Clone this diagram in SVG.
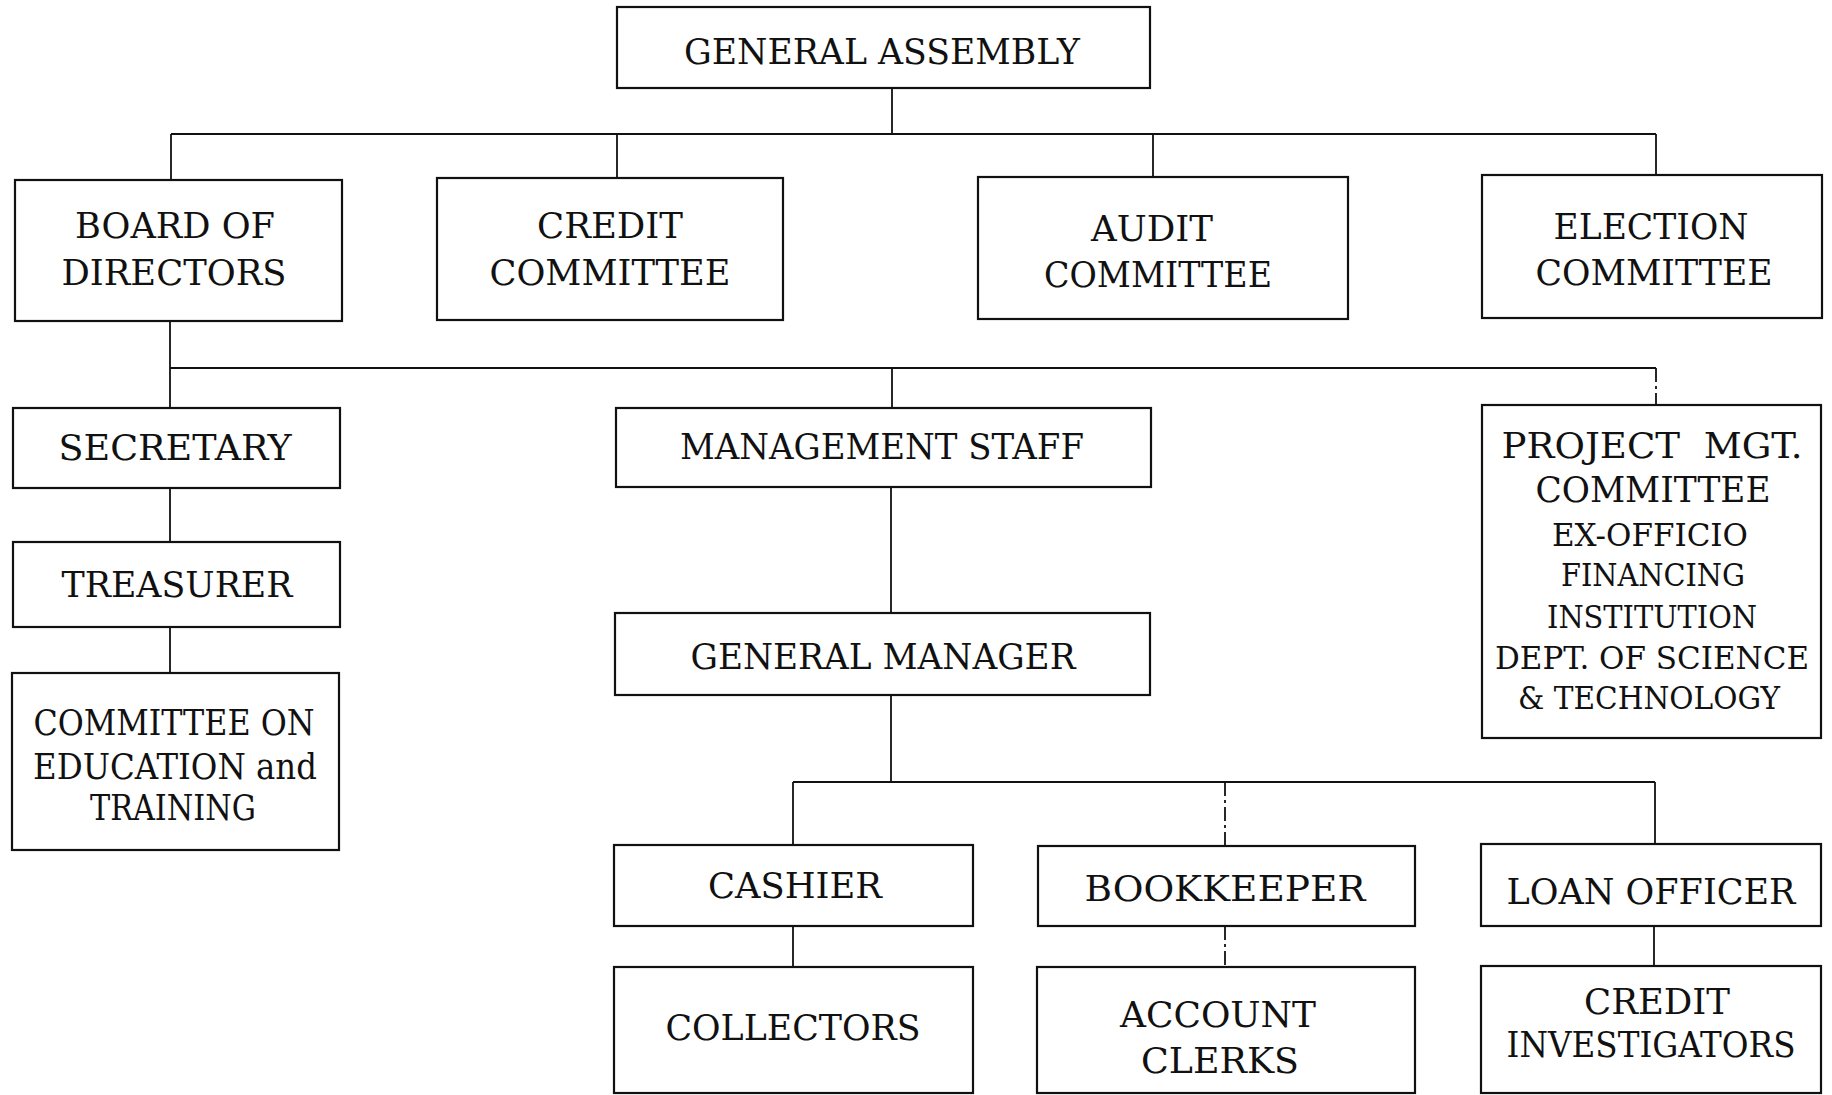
<svg xmlns="http://www.w3.org/2000/svg" width="1832" height="1095" viewBox="0 0 1832 1095">
  <style>
    .box { fill: #ffffff; stroke: #111111; stroke-width: 2.2; }
    .link { fill: none; stroke: #111111; stroke-width: 1.8; }
    .dash { stroke-dasharray: 14 4 3 4; }
    text { font-family: "DejaVu Serif", "Liberation Serif", serif; font-size: 35px; fill: #111111; text-anchor: middle; }
    .sm { font-size: 32px; }
    .pre { white-space: pre; }
  </style>
  <rect width="1832" height="1095" fill="#ffffff"/>

  <!-- connectors -->
  <g id="connectors">
    <path class="link" d="M892 88 V134 M171 134 H1656 M171 134 V180 M617 134 V178 M1153 134 V177 M1656 134 V175"/>
    <path class="link" d="M170 321 V368 M170 368 H1656 M170 368 V408 M892 368 V408"/>
    <path class="link dash" d="M1656 368 V405"/>
    <path class="link" d="M170 488 V542 M170 627 V673"/>
    <path class="link" d="M891 487 V613 M891 695 V782 M793 782 H1655 M793 782 V845 M1655 782 V844"/>
    <path class="link dash" d="M1225 782 V846"/>
    <path class="link" d="M793 926 V967 M1654 926 V966"/>
    <path class="link dash" d="M1225 926 V967"/>
  </g>

  <!-- top level -->
  <g id="general-assembly">
    <rect class="box" x="617" y="7" width="533" height="81"/>
    <text x="882" y="64" textLength="396" lengthAdjust="spacingAndGlyphs">GENERAL ASSEMBLY</text>
  </g>

  <!-- committees under the assembly -->
  <g id="board-of-directors">
    <rect class="box" x="15" y="180" width="327" height="141"/>
    <text x="175" y="238" textLength="200" lengthAdjust="spacingAndGlyphs">BOARD OF</text>
    <text x="174" y="285" textLength="225" lengthAdjust="spacingAndGlyphs">DIRECTORS</text>
  </g>
  <g id="credit-committee">
    <rect class="box" x="437" y="178" width="346" height="142"/>
    <text x="610" y="238" textLength="146" lengthAdjust="spacingAndGlyphs">CREDIT</text>
    <text x="610" y="285" textLength="241" lengthAdjust="spacingAndGlyphs">COMMITTEE</text>
  </g>
  <g id="audit-committee">
    <rect class="box" x="978" y="177" width="370" height="142"/>
    <text x="1152" y="241" textLength="122" lengthAdjust="spacingAndGlyphs">AUDIT</text>
    <text x="1158" y="287" textLength="228" lengthAdjust="spacingAndGlyphs">COMMITTEE</text>
  </g>
  <g id="election-committee">
    <rect class="box" x="1482" y="175" width="340" height="143"/>
    <text x="1651" y="239" textLength="195" lengthAdjust="spacingAndGlyphs">ELECTION</text>
    <text x="1654" y="285" textLength="237" lengthAdjust="spacingAndGlyphs">COMMITTEE</text>
  </g>

  <!-- officers under the board -->
  <g id="secretary">
    <rect class="box" x="13" y="408" width="327" height="80"/>
    <text x="175" y="460" textLength="233" lengthAdjust="spacingAndGlyphs">SECRETARY</text>
  </g>
  <g id="treasurer">
    <rect class="box" x="13" y="542" width="327" height="85"/>
    <text x="177" y="597" textLength="231" lengthAdjust="spacingAndGlyphs">TREASURER</text>
  </g>
  <g id="education-committee">
    <rect class="box" x="12" y="673" width="327" height="177"/>
    <text x="174" y="735" textLength="281" lengthAdjust="spacingAndGlyphs">COMMITTEE ON</text>
    <text x="175" y="779" textLength="284" lengthAdjust="spacingAndGlyphs">EDUCATION and</text>
    <text x="173" y="820" textLength="166" lengthAdjust="spacingAndGlyphs">TRAINING</text>
  </g>

  <g id="management-staff">
    <rect class="box" x="616" y="408" width="535" height="79"/>
    <text x="882" y="459" textLength="404" lengthAdjust="spacingAndGlyphs">MANAGEMENT STAFF</text>
  </g>
  <g id="general-manager">
    <rect class="box" x="615" y="613" width="535" height="82"/>
    <text x="883" y="669" textLength="385" lengthAdjust="spacingAndGlyphs">GENERAL MANAGER</text>
  </g>

  <g id="project-mgt-committee">
    <rect class="box" x="1482" y="405" width="339" height="333"/>
    <text class="pre" x="1652" y="458" textLength="301" lengthAdjust="spacingAndGlyphs">PROJECT  MGT.</text>
    <text x="1653" y="502" textLength="235" lengthAdjust="spacingAndGlyphs">COMMITTEE</text>
    <text class="sm" x="1650" y="546" textLength="196" lengthAdjust="spacingAndGlyphs">EX-OFFICIO</text>
    <text class="sm" x="1653" y="586" textLength="184" lengthAdjust="spacingAndGlyphs">FINANCING</text>
    <text class="sm" x="1652" y="628" textLength="210" lengthAdjust="spacingAndGlyphs">INSTITUTION</text>
    <text class="sm" x="1652" y="669" textLength="314" lengthAdjust="spacingAndGlyphs">DEPT. OF SCIENCE</text>
    <text class="sm" x="1649" y="709" textLength="262" lengthAdjust="spacingAndGlyphs">&amp; TECHNOLOGY</text>
  </g>

  <!-- staff under the general manager -->
  <g id="cashier">
    <rect class="box" x="614" y="845" width="359" height="81"/>
    <text x="795" y="898" textLength="174" lengthAdjust="spacingAndGlyphs">CASHIER</text>
  </g>
  <g id="bookkeeper">
    <rect class="box" x="1038" y="846" width="377" height="80"/>
    <text x="1225" y="901" textLength="281" lengthAdjust="spacingAndGlyphs">BOOKKEEPER</text>
  </g>
  <g id="loan-officer">
    <rect class="box" x="1481" y="844" width="340" height="82"/>
    <text x="1651" y="904" textLength="289" lengthAdjust="spacingAndGlyphs">LOAN OFFICER</text>
  </g>
  <g id="collectors">
    <rect class="box" x="614" y="967" width="359" height="126"/>
    <text x="793" y="1040" textLength="255" lengthAdjust="spacingAndGlyphs">COLLECTORS</text>
  </g>
  <g id="account-clerks">
    <rect class="box" x="1037" y="967" width="378" height="126"/>
    <text x="1218" y="1027" textLength="196" lengthAdjust="spacingAndGlyphs">ACCOUNT</text>
    <text x="1220" y="1073" textLength="158" lengthAdjust="spacingAndGlyphs">CLERKS</text>
  </g>
  <g id="credit-investigators">
    <rect class="box" x="1481" y="966" width="340" height="127"/>
    <text x="1657" y="1014" textLength="146" lengthAdjust="spacingAndGlyphs">CREDIT</text>
    <text x="1651" y="1057" textLength="289" lengthAdjust="spacingAndGlyphs">INVESTIGATORS</text>
  </g>
</svg>
